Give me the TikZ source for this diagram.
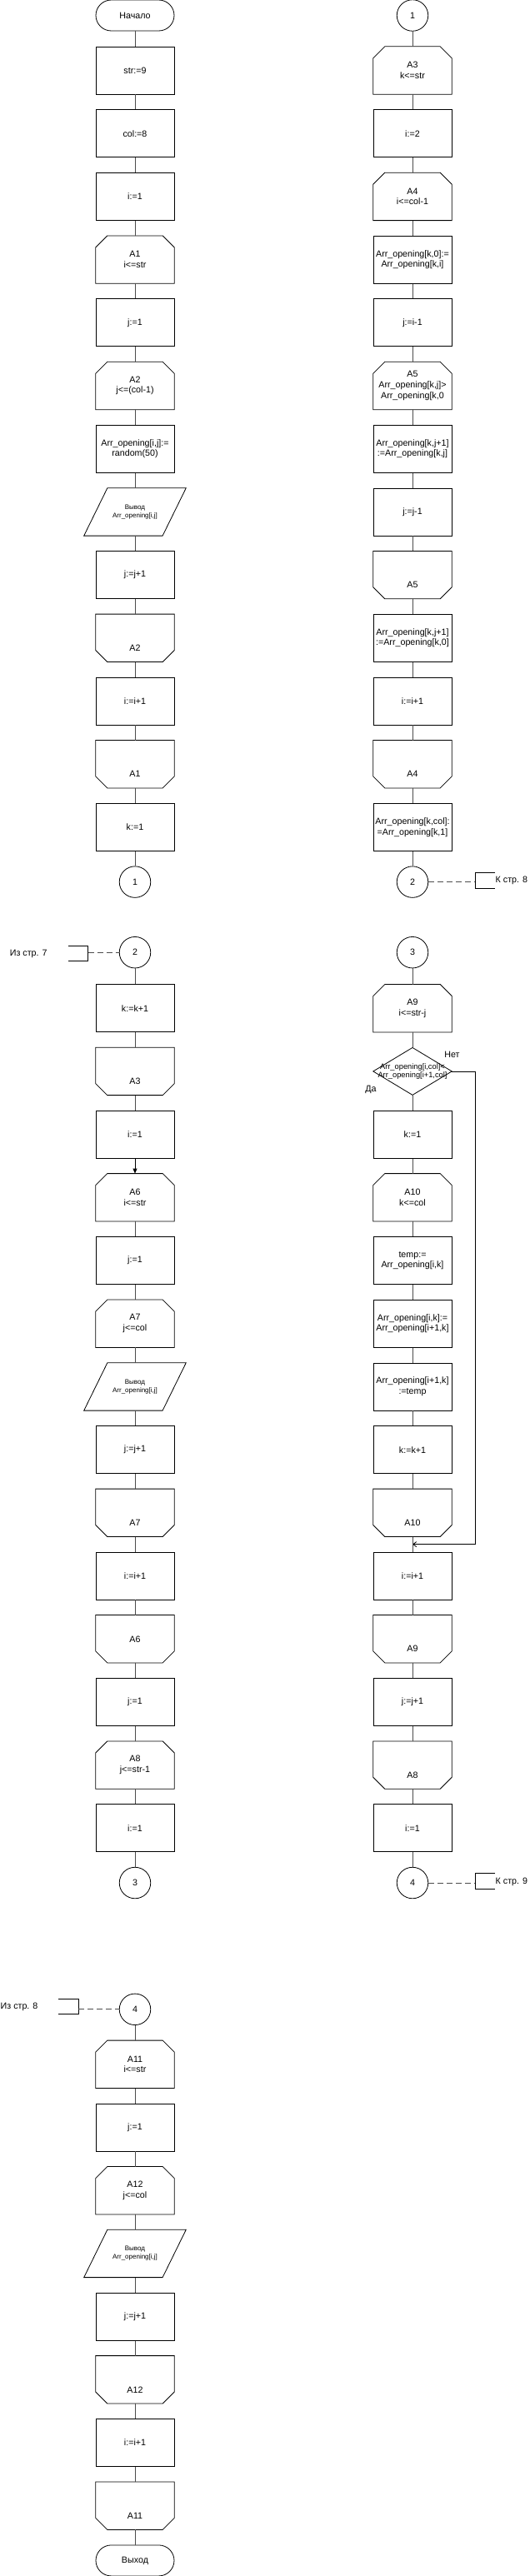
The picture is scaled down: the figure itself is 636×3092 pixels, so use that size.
\documentclass[tikz,border=0pt]{standalone}
\usepackage{fontspec}
\setmainfont{Liberation Sans}
\usetikzlibrary{arrows.meta}

\tikzset{
    shapeln/.style={draw=black, line width=0.8pt},
    flow/.style={draw=black!70, line width=0.8pt},
    refline/.style={draw=black!70, line width=0.8pt, dash pattern=on 7pt off 4pt},
    basebox/.style={rectangle, minimum width=94pt, minimum height=57pt, inner sep=1pt, align=center},
    process/.style={basebox, shapeln},
    terminal/.style={rectangle, rounded corners=18.5pt, minimum width=94pt, minimum height=37pt, inner sep=1pt, shapeln},
    connector/.style={circle, minimum size=37.5pt, inner sep=0pt, shapeln},
    loopbeg/.style={basebox, append after command={\pgfextra{\let\lpn\tikzlastnode
        \draw[shapeln] ([xshift=14pt]\lpn.north west) -- ([xshift=-14pt]\lpn.north east)
            -- ([yshift=-14pt]\lpn.north east) -- (\lpn.south east)
            -- (\lpn.south west) -- ([yshift=-14pt]\lpn.north west) -- cycle;}}},
    loopend/.style={basebox, text height=31.5pt, text depth=0pt, append after command={\pgfextra{\let\lpn\tikzlastnode
        \draw[shapeln] (\lpn.north west) -- (\lpn.north east)
            -- ([yshift=14pt]\lpn.south east) -- ([xshift=-14pt]\lpn.south east)
            -- ([xshift=14pt]\lpn.south west) -- ([yshift=14pt]\lpn.south west) -- cycle;}}},
    io/.style={basebox, font=\fontsize{8}{10}\selectfont, append after command={\pgfextra{\let\lpn\tikzlastnode
        \draw[shapeln] ([xshift=14.1pt]\lpn.north west) -- ([xshift=14.1pt]\lpn.north east)
            -- ([xshift=-14.1pt]\lpn.south east) -- ([xshift=-14.1pt]\lpn.south west) -- cycle;}}},
    decision/.style={basebox, minimum height=56.5pt, font=\fontsize{9.3}{9.7}\selectfont, append after command={\pgfextra{\let\lpn\tikzlastnode
        \draw[shapeln] (\lpn.north) -- (\lpn.east) -- (\lpn.south) -- (\lpn.west) -- cycle;}}},
    pageref/.style={anchor=base west, inner sep=0pt}
}

\begin{document}
\begin{tikzpicture}[x=1pt, y=-1pt, font=\fontsize{10.7}{12.7}\selectfont]
    \useasboundingbox (0,0) rectangle (636,3092);

    % page 1, left column
    \node[terminal] (beg) at (162,18.5) {Начало};
    \node[process] (str) at (162,84.5) {str:=9};
    \node[process] (col) at (162,160.2) {col:=8};
    \node[process] (i1) at (162,235.9) {i:=1};
    \node[loopbeg] (a1) at (162,311.6) {A1\\i<=str};
    \node[process] (j1) at (162,387.3) {j:=1};
    \node[loopbeg] (a2) at (162,463.0) {A2\\j<=(col-1)};
    \node[process] (rnd) at (162,538.7) {Arr\_opening[i,j]:=\\random(50)};
    \node[io] (out1) at (162,614.4) {Вывод\\Arr\_opening[i,j]};
    \node[process] (jinc1) at (162,690.1) {j:=j+1};
    \node[loopend] (a2e) at (162,765.8) {A2};
    \node[process] (iinc1) at (162,841.5) {i:=i+1};
    \node[loopend] (a1e) at (162,917.2) {A1};
    \node[process] (k1) at (162,992.9) {k:=1};
    \node[connector] (c1) at (162,1058.6) {1};

    % page 1, right column
    \node[connector] (c1b) at (495,18.5) {1};
    \node[loopbeg] (a3) at (495,84.5) {A3\\k<=str};
    \node[process] (i2) at (495,160.2) {i:=2};
    \node[loopbeg] (a4) at (495,235.9) {A4\\i<=col-1};
    \node[process] (sav) at (495,311.6) {Arr\_opening[k,0]:=\\Arr\_opening[k,i]};
    \node[process] (jset) at (495,387.3) {j:=i-1};
    \node[loopbeg] (a5) at (495,463.0) {A5\\Arr\_opening[k,j]>\\Arr\_opening[k,0};
    \node[process] (shf) at (495,538.7) {Arr\_opening[k,j+1]\\:=Arr\_opening[k,j]};
    \node[process] (jdec) at (495,614.4) {j:=j-1};
    \node[loopend] (a5e) at (495,690.1) {A5};
    \node[process] (put) at (495,765.8) {Arr\_opening[k,j+1]\\:=Arr\_opening[k,0]};
    \node[process] (iinc2) at (495,841.5) {i:=i+1};
    \node[loopend] (a4e) at (495,917.2) {A4};
    \node[process] (lst) at (495,992.9) {Arr\_opening[k,col]:\\=Arr\_opening[k,1]};
    \node[connector] (c2) at (495,1058.6) {2};

    \coordinate (to8) at (570,1058.6);
    \draw[refline] (c2) -- (to8);
    \draw[shapeln] (594,1047.3) -- (570,1047.3) -- (570,1066) -- (594,1066);
    \node[pageref] (lto8) at (594.5,1059.8) {К стр. 8};

    % page 2, left column
    \node[connector] (c2b) at (162,1143.2) {2};
    \node[process] (kinc) at (162,1210.2) {k:=k+1};
    \node[loopend] (a3e) at (162,1285.9) {A3};
    \node[process] (i3) at (162,1361.6) {i:=1};
    \node[loopbeg] (a6) at (162,1437.3) {A6\\i<=str};
    \node[process] (j3) at (162,1513.0) {j:=1};
    \node[loopbeg] (a7) at (162,1588.7) {A7\\j<=col};
    \node[io] (out2) at (162,1664.4) {Вывод\\Arr\_opening[i,j]};
    \node[process] (jinc2) at (162,1740.1) {j:=j+1};
    \node[loopend] (a7e) at (162,1815.8) {A7};
    \node[process] (iinc3) at (162,1891.5) {i:=i+1};
    \node[loopend, text height=7.7pt] (a6e) at (162,1967.2) {A6};
    \node[process] (j4) at (162,2042.9) {j:=1};
    \node[loopbeg] (a8) at (162,2118.6) {A8\\j<=str-1};
    \node[process] (i4) at (162,2194.3) {i:=1};
    \node[connector] (c3) at (162,2260.0) {3};

    \coordinate (from7) at (105.7,1143.2);
    \draw[shapeln] (81.7,1135) -- (105.7,1135) -- (105.7,1153.3) -- (81.7,1153.3);
    \draw[refline] (from7) -- (c2b);
    \node[pageref] (lfr7) at (11.7,1147.1) {Из стр. 7};

    % page 2, right column
    \node[connector] (c3b) at (495,1143.2) {3};
    \node[loopbeg] (a9) at (495,1210.2) {A9\\i<=str-j};
    \node[decision] (cmp) at (495,1285.9) {Arr\_opening[i,col]<\\Arr\_opening[i+1,col]};
    \node[process] (k2) at (495,1361.6) {k:=1};
    \node[loopbeg] (a10) at (495,1437.3) {A10\\k<=col};
    \node[process] (tmp) at (495,1513.0) {temp:=\\Arr\_opening[i,k]};
    \node[process] (sw1) at (495,1588.7) {Arr\_opening[i,k]:=\\Arr\_opening[i+1,k]};
    \node[process] (sw2) at (495,1664.4) {Arr\_opening[i+1,k]\\:=temp};
    \node[process] (kinc2) at (495,1740.1) {k:=k+1};
    \node[loopend] (a10e) at (495,1815.8) {A10};
    \coordinate (join) at (495,1853.6);
    \node[process] (iinc4) at (495,1891.5) {i:=i+1};
    \node[loopend] (a9e) at (495,1967.2) {A9};
    \node[process] (jinc3) at (495,2042.9) {j:=j+1};
    \node[loopend] (a8e) at (495,2118.6) {A8};
    \node[process] (i5) at (495,2194.3) {i:=1};
    \node[connector] (c4) at (495,2260.0) {4};

    \node (no) at (542.5,1265.5) {Нет};
    \node (yes) at (445,1307.5) {Да};
    \draw[shapeln, -{Straight Barb[length=4pt,width=6pt]}] (cmp.east) -- ++(28.5,0) |- (join);

    \coordinate (to9) at (570,2260.0);
    \draw[refline] (c4) -- (to9);
    \draw[shapeln] (594,2248.7) -- (570,2248.7) -- (570,2267.4) -- (594,2267.4);
    \node[pageref] (lto9) at (594.5,2261.2) {К стр. 9};

    % page 3
    \node[connector] (c4b) at (162,2411.8) {4};
    \node[loopbeg] (a11) at (162,2477.8) {A11\\i<=str};
    \node[process] (j5) at (162,2553.5) {j:=1};
    \node[loopbeg] (a12) at (162,2629.2) {A12\\j<=col};
    \node[io] (out3) at (162,2704.9) {Вывод\\Arr\_opening[i,j]};
    \node[process] (jinc4) at (162,2780.6) {j:=j+1};
    \node[loopend] (a12e) at (162,2856.3) {A12};
    \node[process] (iinc5) at (162,2932.0) {i:=i+1};
    \node[loopend] (a11e) at (162,3007.7) {A11};
    \node[terminal] (fin) at (162,3073.4) {Выход};

    \coordinate (from8) at (94.3,2411.8);
    \draw[shapeln] (70,2399) -- (94.3,2399) -- (94.3,2417.3) -- (70,2417.3);
    \draw[refline] (from8) -- (c4b);
    \node[pageref] (lfr8) at (0.5,2411.9) {Из стр. 8};

    % connectors
    \draw[flow] (beg) -- (str) (str) -- (col) (col) -- (i1) (i1) -- (a1)
        (a1) -- (j1) (j1) -- (a2) (a2) -- (rnd) (rnd) -- (out1)
        (out1) -- (jinc1) (jinc1) -- (a2e) (a2e) -- (iinc1) (iinc1) -- (a1e)
        (a1e) -- (k1) (k1) -- (c1);
    \draw[flow] (c1b) -- (a3) (a3) -- (i2) (i2) -- (a4) (a4) -- (sav)
        (sav) -- (jset) (jset) -- (a5) (a5) -- (shf) (shf) -- (jdec)
        (jdec) -- (a5e) (a5e) -- (put) (put) -- (iinc2) (iinc2) -- (a4e)
        (a4e) -- (lst) (lst) -- (c2);
    \draw[flow] (c2b) -- (kinc) (kinc) -- (a3e) (a3e) -- (i3)
        (a6) -- (j3) (j3) -- (a7) (a7) -- (out2) (out2) -- (jinc2)
        (jinc2) -- (a7e) (a7e) -- (iinc3) (iinc3) -- (a6e) (a6e) -- (j4)
        (j4) -- (a8) (a8) -- (i4) (i4) -- (c3);
    \draw[flow, draw=black, -{Triangle[length=6pt,width=5pt]}] (i3) -- (a6);
    \draw[flow] (c3b) -- (a9) (a9) -- (cmp) (cmp) -- (k2) (k2) -- (a10)
        (a10) -- (tmp) (tmp) -- (sw1) (sw1) -- (sw2) (sw2) -- (kinc2)
        (kinc2) -- (a10e) (a10e) -- (iinc4) (iinc4) -- (a9e) (a9e) -- (jinc3)
        (jinc3) -- (a8e) (a8e) -- (i5) (i5) -- (c4);
    \draw[flow] (c4b) -- (a11) (a11) -- (j5) (j5) -- (a12) (a12) -- (out3)
        (out3) -- (jinc4) (jinc4) -- (a12e) (a12e) -- (iinc5) (iinc5) -- (a11e)
        (a11e) -- (fin);
\end{tikzpicture}
\end{document}
